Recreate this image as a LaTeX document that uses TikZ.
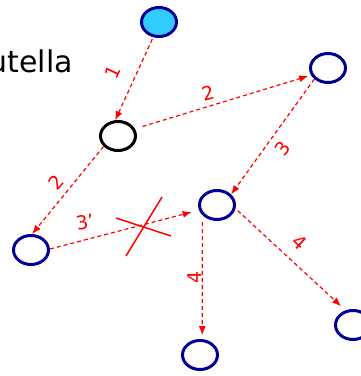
\documentclass[tikz,border=0pt]{standalone}
\usepackage{fontspec}
\setmainfont{DejaVu Sans}
\usetikzlibrary{arrows.meta,shapes.geometric}
\definecolor{navyring}{RGB}{0,0,150}
\definecolor{skyfill}{RGB}{51,204,255}
\tikzset{
  hub/.style={ellipse,draw=navyring,line width=3pt,minimum width=35pt,minimum height=29pt,inner sep=0pt},
  hop/.style={-{Latex[length=9pt,width=7pt]},red,dash pattern=on 4pt off 3pt,line width=1.2pt},
  hoplabel/.style={red,font=\fontsize{19}{19}\selectfont,inner sep=0pt}
}
\begin{document}
\begin{tikzpicture}[x=1pt,y=1pt]
  \useasboundingbox (0,0) rectangle (361,376);
  \clip (0,0) rectangle (361,376);
  \node[anchor=base east,inner sep=0pt,font=\fontsize{30}{30}\selectfont] (title) at (73,304) {utella};
  % nodes
  \node[hub,fill=skyfill] (src) at (159,354) {};
  \node[hub,draw=black] (cur) at (118,240) {};
  \node[hub] (ne) at (328,308) {};
  \node[hub] (west) at (31,126) {};
  \node[hub] (mid) at (217,171) {};
  \node[hub] (south) at (200,21) {};
  \node[hub] (se) at (353,51) {};
  % hops
  \draw[hop,shorten <=2pt] (src.249) -- (cur.100);
  \draw[hop,shorten <=8pt,shorten >=3pt] (cur.23) -- (ne.203);
  \draw[hop] (cur.216) -- (west.86);
  \draw[hop] (ne.219) -- (mid.37);
  \draw[hop,shorten >=7.5pt] (west.3) -- (mid.196);
  \draw[hop,shorten <=7pt,shorten >=4pt] (mid.215) -- (south.82);
  \draw[hop,shorten <=3pt,shorten >=6pt] (mid.349) -- (se.117);
  % cross
  \draw[red,line width=1.5pt] (116,158) -- (171,140);
  \draw[red,line width=1.5pt] (162,179) -- (126,120);
  % labels
  \node[hoplabel,rotate=65] (l1) at (113,304) {1};
  \node[hoplabel,rotate=15] (l2a) at (208,283) {2};
  \node[hoplabel,rotate=53] (l3) at (283,227) {3};
  \node[hoplabel,rotate=49] (l2b) at (56,194) {2};
  \node[hoplabel,rotate=10] (l3p) at (85,154) {3’};
  \node[hoplabel,rotate=90] (l4a) at (195,99) {4};
  \node[hoplabel,rotate=-42] (l4b) at (300,134) {4};
\end{tikzpicture}
\end{document}
